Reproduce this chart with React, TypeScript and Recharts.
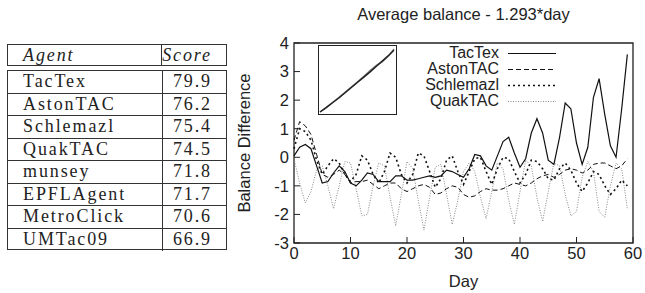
import React from 'react'
import {
  LineChart, Line, XAxis, YAxis, ReferenceArea, Legend
} from 'recharts'

const DAYS = [
  0, 1, 2, 3, 4, 5, 6, 7, 8, 9, 10, 11, 12, 13, 14, 15, 16, 17, 18, 19,
  20, 21, 22, 23, 24, 25, 26, 27, 28, 29, 30, 31, 32, 33, 34, 35, 36, 37, 38, 39,
  40, 41, 42, 43, 44, 45, 46, 47, 48, 49, 50, 51, 52, 53, 54, 55, 56, 57, 58, 59,
]

const TACTEX = [
  0.05, 0.35, 0.45, 0.3, -0.3, -0.9, -0.85, -0.55, -0.3, -0.5,
  -0.9, -1.0, -0.8, -0.55, -0.6, -0.85, -0.85, -0.85, -0.65, -0.65,
  -0.8, -0.8, -0.75, -0.7, -0.65, -0.7, -0.65, -0.45, -0.5, -0.6,
  -0.7, -0.4, 0.1, 0.05, -0.3, -0.45, 0.05, 0.55, 0.7, 0.15,
  -0.35, -0.05, 0.85, 1.35, 0.85, -0.1, -0.25, 0.7, 1.9, 1.7,
  0.5, -0.25, 0.35, 2.1, 2.75, 1.5, 0.4, 0.0, 1.7, 3.6,
]

const ASTONTAC = [
  0.6, 1.25, 1.1, 0.8, 0.1, -0.6, -0.7, -0.6, -0.45, -0.6,
  -0.9, -0.85, -0.85, -0.8, -0.95, -1.1, -1.0, -0.9, -0.9, -1.1,
  -1.2, -1.1, -1.0, -0.95, -1.05, -1.3, -1.25, -1.1, -1.0, -1.05,
  -1.3, -1.4, -1.35, -1.2, -1.1, -1.15, -1.15, -1.1, -1.0, -0.9,
  -0.95, -1.0, -0.9, -0.75, -0.65, -0.6, -0.7, -0.6, -0.45, -0.4,
  -0.45, -0.55, -0.45, -0.25, -0.2, -0.2, -0.3, -0.4, -0.3, -0.05,
]

const SCHLEMAZL = [
  0.3, 1.0, 0.9, 0.6, -0.1, -0.6, -0.3, -0.05, -0.2, -0.6,
  -0.85, -0.6, 0.05, -0.1, -0.6, -0.9, -0.5, 0.15, 0.0, -0.6,
  -0.9, -0.6, 0.15, 0.05, -0.5, -1.05, -0.75, -0.1, 0.05, -0.5,
  -0.95, -0.5, -0.05, 0.0, -0.5, -0.95, -0.4, 0.0, -0.05, -0.5,
  -0.9, -0.6, -0.1, -0.15, -0.4, -0.75, -0.8, -0.4, -0.2, -0.45,
  -0.9, -1.2, -0.9, -0.5, -0.6, -1.0, -1.3, -1.1, -0.8, -1.0,
]

const QUAKTAC = [
  -0.05, -0.9, -1.6, -1.2, -0.45, -0.3, -1.0, -1.8, -1.0, -0.15,
  -0.2, -1.1, -2.05, -2.0, -1.0, -0.2, -0.3, -1.4, -2.4, -1.3,
  -0.15, -0.4, -1.5, -2.55, -1.4, -0.35, -0.25, -1.3, -2.35, -1.5,
  -0.5, -0.2, -0.5, -1.4, -2.15, -1.2, -0.2, -0.4, -1.5, -2.35,
  -1.2, -0.1, -0.3, -1.4, -2.25, -1.2, -0.2, -0.3, -1.3, -2.05,
  -1.9, -0.7, -0.15, -0.5, -1.9, -2.1, -1.0, -0.2, -0.4, -1.8,
]

const X_TICKS = [0, 10, 20, 30, 40, 50, 60]
const Y_TICKS = [-3, -2, -1, 0, 1, 2, 3, 4]

// inset: cumulative balance, nearly straight
const INSET_DAYS = [0, 5, 10, 15, 20, 25, 30, 35, 40, 45, 50, 55, 59]
const INSET_MAIN = [0, 5.5, 11.5, 17.5, 24, 30.5, 37, 43.5, 50, 57, 64, 71, 77]
const INSET_OTHER = [0, 5.8, 11.8, 18, 24.5, 31, 37.5, 44.5, 51.5, 58, 63, 70.5, 78.5]

const AGENTS = ['TacTex', 'AstonTAC', 'Schlemazl', 'QuakTAC', 'munsey', 'EPFLAgent', 'MetroClick', 'UMTac09']
const SCORES = ['79.9', '76.2', '75.4', '74.5', '71.8', '71.7', '70.6', '66.9']

const SERIES = [
  { key: 'TacTex', color: '#111', width: 1.2, dash: undefined as string | undefined },
  { key: 'AstonTAC', color: '#111', width: 1, dash: '5 3' },
  { key: 'Schlemazl', color: '#111', width: 1.6, dash: '2 3' },
  { key: 'QuakTAC', color: '#888', width: 1, dash: '1 1.5' },
]

const data = DAYS.map((d, i) => ({
  day: d,
  TacTex: TACTEX[i],
  AstonTAC: ASTONTAC[i],
  Schlemazl: SCHLEMAZL[i],
  QuakTAC: QUAKTAC[i],
}))

const insetData = INSET_DAYS.map((d, i) => ({ day: d, main: INSET_MAIN[i], other: INSET_OTHER[i] }))

const SANS = '"Liberation Sans", Arial, sans-serif'
const SERIF = '"Liberation Serif", "Times New Roman", serif'
const FS = 16.5

const cellText: React.CSSProperties = {
  fontFamily: SERIF,
  fontSize: 18,
  letterSpacing: 1.9,
  color: '#222',
}

function ScoreTable() {
  const rowH = 22.5
  return (
    <>
      <div style={{
        position: 'absolute', left: 7, top: 44, width: 220, height: 22,
        border: '1px solid #333', boxSizing: 'border-box', display: 'flex',
      }}>
        <div style={{ ...cellText, fontStyle: 'italic', width: 139, borderRight: '1px solid #333', paddingLeft: 15, lineHeight: '20px' }}>Agent</div>
        <div style={{ ...cellText, fontStyle: 'italic', flex: 1, textAlign: 'right', paddingRight: 14, lineHeight: '20px' }}>Score</div>
      </div>
      <div style={{
        position: 'absolute', left: 7, top: 70, width: 220, height: 180,
        border: '1px solid #333', boxSizing: 'border-box',
      }}>
        {AGENTS.map((a, i) => (
          <div key={a} style={{
            display: 'flex', height: rowH, boxSizing: 'border-box',
            borderBottom: i < AGENTS.length - 1 ? '1px solid #333' : 'none',
          }}>
            <div style={{ ...cellText, width: 139, borderRight: '1px solid #333', paddingLeft: 15, lineHeight: `${rowH - 1}px` }}>{a}</div>
            <div style={{ ...cellText, flex: 1, textAlign: 'right', paddingRight: 14, lineHeight: `${rowH - 1}px` }}>{SCORES[i]}</div>
          </div>
        ))}
      </div>
    </>
  )
}

function LegendBox() {
  return (
    <div style={{ fontFamily: SANS, fontSize: 16, lineHeight: '16px', color: '#222' }}>
      {SERIES.map(s => (
        <div key={s.key} style={{ display: 'flex', alignItems: 'center', height: 16 }}>
          <span style={{ width: 90, textAlign: 'right', lineHeight: '16px', height: 16, overflow: 'visible' }}>{s.key}</span>
          <svg width={57} height={16}>
            <line x1={9} x2={57} y1={8.5} y2={8.5} stroke={s.color} strokeWidth={s.width} strokeDasharray={s.dash} />
          </svg>
        </div>
      ))}
    </div>
  )
}

export default function App() {
  return (
    <div style={{ position: 'absolute', left: 0, top: 0, width: 645, height: 293, background: '#fff', overflow: 'hidden' }}>
      <ScoreTable />

      <div style={{
        position: 'absolute', left: 294, width: 339, top: 5, textAlign: 'center',
        fontFamily: SANS, fontSize: FS, color: '#222',
      }}>
        Average balance - 1.293*day
      </div>

      <div style={{ position: 'absolute', left: 230, top: 0 }}>
        <LineChart width={415} height={293} data={data} margin={{ top: 43, right: 12, bottom: 10, left: 0 }}>
          <XAxis
            dataKey="day"
            type="number"
            domain={[0, 60]}
            ticks={X_TICKS}
            height={40}
            axisLine={false}
            tickSize={-6}
            tickMargin={10}
            tickLine={{ stroke: '#222' }}
            tick={{ fill: '#222', fontSize: FS, fontFamily: SANS }}
            label={{ value: 'Day', position: 'insideBottom', offset: -4, fill: '#222', fontSize: FS, fontFamily: SANS }}
          />
          <YAxis
            type="number"
            domain={[-3, 4]}
            ticks={Y_TICKS}
            width={64}
            axisLine={false}
            tickSize={-6}
            tickMargin={11}
            tickLine={{ stroke: '#222' }}
            tick={{ fill: '#222', fontSize: FS, fontFamily: SANS }}
            label={{
              value: 'Balance Difference', angle: -90, position: 'insideLeft', offset: 14,
              style: { textAnchor: 'middle', fill: '#222', fontSize: FS, fontFamily: SANS },
            }}
          />
          <ReferenceArea x1={0} x2={60} y1={-3} y2={4} fill="none" stroke="#222" strokeWidth={1.3} />
          {[...SERIES].reverse().map(s => (
            <Line
              key={s.key}
              type="linear"
              dataKey={s.key}
              stroke={s.color}
              strokeWidth={s.width}
              strokeDasharray={s.dash}
              dot={false}
              activeDot={false}
              isAnimationActive={false}
            />
          ))}
          <Legend
            layout="vertical"
            align="center"
            verticalAlign="middle"
            content={() => <LegendBox />}
            wrapperStyle={{ top: 45, left: 179, width: 150 }}
          />
        </LineChart>
      </div>

      <div style={{
        position: 'absolute', left: 318, top: 45, width: 79, height: 70,
        border: '1.5px solid #222', boxSizing: 'border-box', background: '#fff',
      }}>
        <LineChart width={76} height={67} data={insetData} margin={{ top: 3, right: 1, bottom: 1, left: 1 }}>
          <XAxis dataKey="day" type="number" domain={[0, 59]} hide />
          <YAxis type="number" domain={[0, 78.5]} hide />
          <Line type="linear" dataKey="other" stroke="#777" strokeWidth={1.5} dot={false} isAnimationActive={false} />
          <Line type="linear" dataKey="main" stroke="#222" strokeWidth={1.4} dot={false} isAnimationActive={false} />
        </LineChart>
      </div>
    </div>
  )
}
